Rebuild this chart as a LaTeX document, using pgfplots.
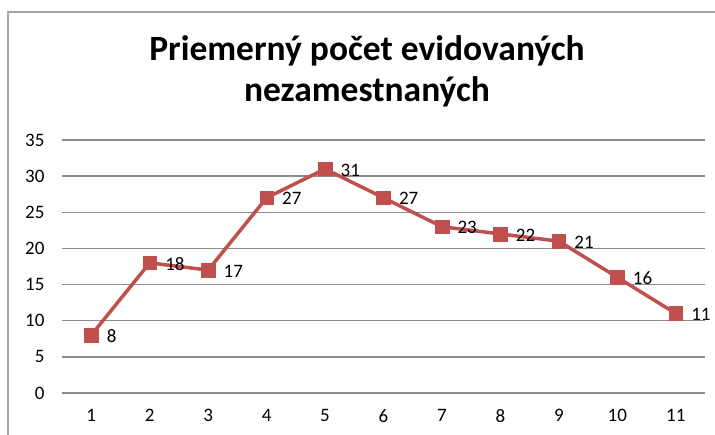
\documentclass[border=0pt]{standalone}
\usepackage{pgfplots}
\pgfplotsset{compat=1.18}
\usepackage{fontspec}
\setmainfont{Carlito}
\definecolor{serie}{HTML}{C0504D}
\definecolor{gridc}{HTML}{8C8C8C}
\definecolor{framec}{HTML}{A6A6A6}
\begin{document}
\begin{tikzpicture}[x=1pt,y=1pt]
\useasboundingbox (0,0) rectangle (715,435);
\draw[framec, line width=1.5pt] (8,0) -- (8,423) -- (715,423);
\node[font=\bfseries\fontsize{35.5}{40}\selectfont, anchor=base] at (367,374) {Priemerný počet evidovaných};
\node[font=\bfseries\fontsize{35.5}{40}\selectfont, anchor=base] at (367,333) {nezamestnaných};
\begin{axis}[at={(62pt,42pt)}, anchor=south west, scale only axis,
  width=643pt, height=253pt,
  xmin=0.5, xmax=11.5, ymin=0, ymax=35,
  ytick={0,5,...,35}, xtick={1,...,11},
  axis line style={draw=none},
  ymajorgrids, grid style={gridc, line width=1.3pt},
  major tick style={draw=none},
  clip=false,
  /pgf/number format/assume math mode=true,
  tick label style={font=\fontsize{19}{23}\selectfont},
  yticklabel style={xshift=-14pt},
  xticklabel style={yshift=-13pt},
]
\addplot[serie, line width=3.5pt, mark=square*, mark size=6.8pt,
  mark options={solid, line width=0.5pt},
  nodes near coords,
  nodes near coords style={anchor=west, xshift=12pt, yshift=-1pt, text=black, font=\fontsize{19}{23}\selectfont},
] coordinates {
(1,8) (2,18) (3,17) (4,27) (5,31) (6,27) (7,23) (8,22) (9,21) (10,16) (11,11)
};
\end{axis}
\end{tikzpicture}
\end{document}
